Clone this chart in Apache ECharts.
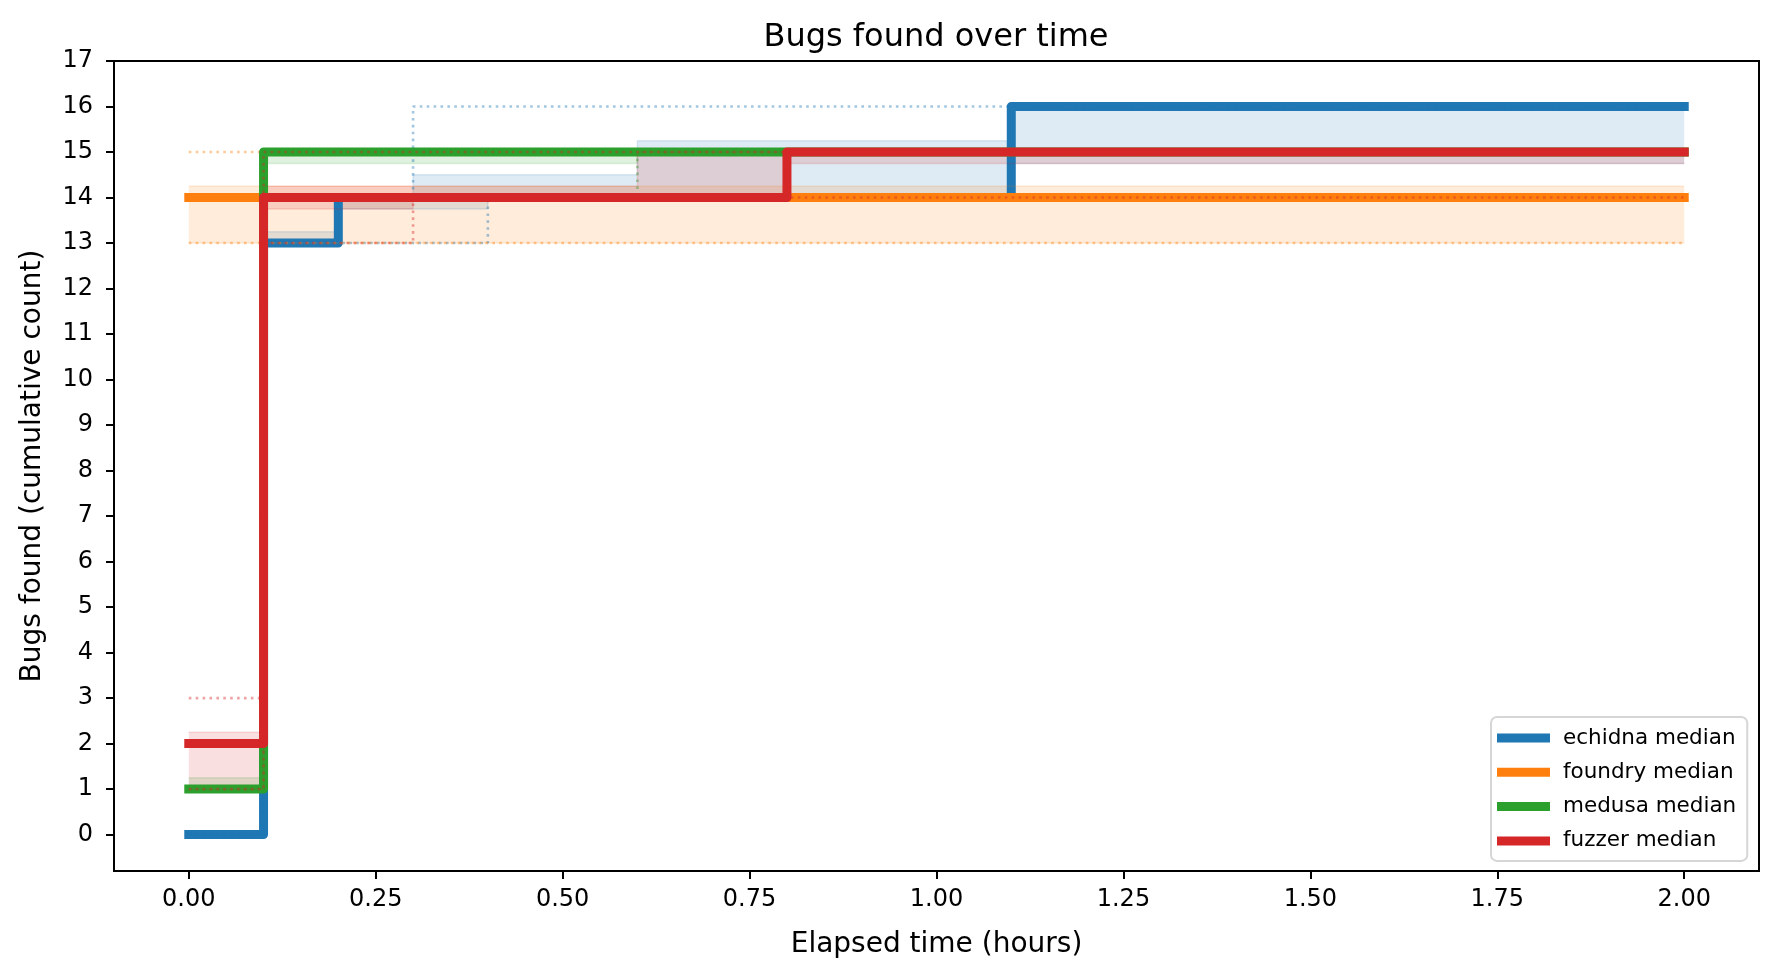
<!DOCTYPE html>
<html>
<head>
<meta charset="utf-8">
<title>Bugs found over time</title>
<script src="https://cdn.jsdelivr.net/npm/echarts@6.0.0/dist/echarts.min.js"></script>
<style>
  html, body { margin: 0; padding: 0; background: #fff; }
  #graph_bugs { width: 1779px; height: 978px; }
</style>
</head>
<body>
<div id="graph_bugs"></div>
<script>
// elapsed time samples (hours)
var times = [0, 0.1, 0.2, 0.3, 0.4, 0.5, 0.6, 0.7, 0.8, 0.9, 1.0, 1.1, 1.2, 1.3, 1.4, 1.5, 1.6, 1.7, 1.8, 1.9, 2.0];

// echidna
var echidnaMedian = [0, 13, 14, 14, 14, 14, 14, 14, 14, 14, 14, 16, 16, 16, 16, 16, 16, 16, 16, 16, 16];
var echidnaQ25    = [0, 13, 13.75, 13.75, 14, 14, 14, 14, 14, 14, 14, 14.75, 14.75, 14.75, 14.75, 14.75, 14.75, 14.75, 14.75, 14.75, 14.75];
var echidnaQ75    = [0, 13.25, 14, 14.5, 14.5, 14.5, 15.25, 15.25, 15.25, 15.25, 15.25, 16, 16, 16, 16, 16, 16, 16, 16, 16, 16];
var echidnaMin    = [0, 13, 13, 13, 14, 14, 14, 14, 14, 14, 14, 14, 14, 14, 14, 14, 14, 14, 14, 14, 14];
var echidnaMax    = [0, 14, 14, 16, 16, 16, 16, 16, 16, 16, 16, 16, 16, 16, 16, 16, 16, 16, 16, 16, 16];

// foundry
var foundryMedian = [14, 14, 14, 14, 14, 14, 14, 14, 14, 14, 14, 14, 14, 14, 14, 14, 14, 14, 14, 14, 14];
var foundryQ25    = [13, 13, 13, 13, 13, 13, 13, 13, 13, 13, 13, 13, 13, 13, 13, 13, 13, 13, 13, 13, 13];
var foundryQ75    = [14.25, 14.25, 14.25, 14.25, 14.25, 14.25, 14.25, 14.25, 14.25, 14.25, 14.25, 14.25, 14.25, 14.25, 14.25, 14.25, 14.25, 14.25, 14.25, 14.25, 14.25];
var foundryMin    = [13, 13, 13, 13, 13, 13, 13, 13, 13, 13, 13, 13, 13, 13, 13, 13, 13, 13, 13, 13, 13];
var foundryMax    = [15, 15, 15, 15, 15, 15, 15, 15, 15, 15, 15, 15, 15, 15, 15, 15, 15, 15, 15, 15, 15];

// medusa
var medusaMedian = [1, 15, 15, 15, 15, 15, 15, 15, 15, 15, 15, 15, 15, 15, 15, 15, 15, 15, 15, 15, 15];
var medusaQ25    = [1, 14.75, 14.75, 14.75, 14.75, 14.75, 15, 15, 15, 15, 15, 15, 15, 15, 15, 15, 15, 15, 15, 15, 15];
var medusaQ75    = [1.25, 15, 15, 15, 15, 15, 15, 15, 15, 15, 15, 15, 15, 15, 15, 15, 15, 15, 15, 15, 15];
var medusaMin    = [1, 14, 14, 14, 14, 14, 15, 15, 15, 15, 15, 15, 15, 15, 15, 15, 15, 15, 15, 15, 15];
var medusaMax    = [2, 15, 15, 15, 15, 15, 15, 15, 15, 15, 15, 15, 15, 15, 15, 15, 15, 15, 15, 15, 15];

// fuzzer
var fuzzerMedian = [2, 14, 14, 14, 14, 14, 14, 14, 15, 15, 15, 15, 15, 15, 15, 15, 15, 15, 15, 15, 15];
var fuzzerQ25    = [1, 13.75, 13.75, 14, 14, 14, 14, 14, 14.75, 14.75, 14.75, 14.75, 14.75, 14.75, 14.75, 14.75, 14.75, 14.75, 14.75, 14.75, 14.75];
var fuzzerQ75    = [2.25, 14.25, 14.25, 14.25, 14.25, 14.25, 15, 15, 15, 15, 15, 15, 15, 15, 15, 15, 15, 15, 15, 15, 15];
var fuzzerMin    = [1, 13, 13, 14, 14, 14, 14, 14, 14, 14, 14, 14, 14, 14, 14, 14, 14, 14, 14, 14, 14];
var fuzzerMax    = [3, 15, 15, 15, 15, 15, 15, 15, 15, 15, 15, 15, 15, 15, 15, 15, 15, 15, 15, 15, 15];

var xTicks = [0, 0.25, 0.5, 0.75, 1, 1.25, 1.5, 1.75, 2];
var yTicks = [0, 1, 2, 3, 4, 5, 6, 7, 8, 9, 10, 11, 12, 13, 14, 15, 16, 17];

var FONT = 'DejaVu Sans';

// value first, time second (encode below) so stacking happens on y
function pairs(vals) {
  return times.map(function (t, i) { return [vals[i], t]; });
}
function spread(lo, hi) {
  return times.map(function (t, i) { return [hi[i] - lo[i], t]; });
}

function fuzzerSeries(name, color, med, q25, q75, mn, mx) {
  var edge = { color: color, opacity: 0.15, width: 1.5 };
  var dotted = { color: color, opacity: 0.42, width: 2.6, type: [2.6, 4.3], cap: 'butt' };
  var base = {
    type: 'line', step: 'end', symbol: 'none', showSymbol: false, silent: true,
    encode: { x: 1, y: 0 }, itemStyle: { color: color }
  };
  return [
    Object.assign({}, base, { name: name + ' q25', stack: name + 'band', data: pairs(q25), lineStyle: edge }),
    Object.assign({}, base, { name: name + ' q75', stack: name + 'band', data: spread(q25, q75), lineStyle: edge,
      areaStyle: { color: color, opacity: 0.15 } }),
    Object.assign({}, base, { name: name + ' median', data: pairs(med),
      lineStyle: { color: color, width: 9, cap: 'square', join: 'round' } }),
    Object.assign({}, base, { name: name + ' min', data: pairs(mn), lineStyle: dotted }),
    Object.assign({}, base, { name: name + ' max', data: pairs(mx), lineStyle: dotted })
  ];
}

var series = []
  .concat(fuzzerSeries('echidna', '#1f77b4', echidnaMedian, echidnaQ25, echidnaQ75, echidnaMin, echidnaMax))
  .concat(fuzzerSeries('foundry', '#ff7f0e', foundryMedian, foundryQ25, foundryQ75, foundryMin, foundryMax))
  .concat(fuzzerSeries('medusa', '#2ca02c', medusaMedian, medusaQ25, medusaQ75, medusaMin, medusaMax))
  .concat(fuzzerSeries('fuzzer', '#d62728', fuzzerMedian, fuzzerQ25, fuzzerQ75, fuzzerMin, fuzzerMax));

var chart = echarts.init(document.getElementById('graph_bugs'));

var axisLineStyle = { color: '#000', width: 2 };

option = {
  animation: false,
  backgroundColor: '#fff',
  title: {
    text: 'Bugs found over time',
    left: 936,
    top: 22,
    textAlign: 'center',
    padding: 0,
    textStyle: { fontFamily: FONT, fontSize: 32, fontWeight: 'normal', color: '#000' }
  },
  legend: {
    data: ['echidna median', 'foundry median', 'medusa median', 'fuzzer median'],
    orient: 'vertical',
    left: 1491,
    top: 717,
    icon: 'rect',
    itemWidth: 53,
    itemHeight: 9,
    itemGap: 12.3,
    padding: [10, 11, 9, 6],
    backgroundColor: 'rgba(255,255,255,0.8)',
    borderColor: '#d6d6d6',
    borderWidth: 2,
    borderRadius: 6,
    selectedMode: false,
    textStyle: { fontFamily: FONT, fontSize: 21.5, color: '#000', lineHeight: 22, padding: [0, 0, 0, 8] }
  },
  grid: {
    left: 114,
    right: 20,
    top: 61,
    bottom: 107,
    show: true,
    borderColor: '#000',
    borderWidth: 2,
    outerBoundsMode: 'none'
  },
  xAxis: {
    type: 'value',
    min: -0.1,
    max: 2.1,
    name: 'Elapsed time (hours)',
    nameLocation: 'middle',
    nameGap: 60,
    nameTextStyle: { fontFamily: FONT, fontSize: 28, color: '#000' },
    splitLine: { show: false },
    axisLine: { show: true, onZero: false, lineStyle: axisLineStyle },
    axisTick: { show: true, customValues: xTicks, length: 8, lineStyle: axisLineStyle },
    axisLabel: {
      customValues: xTicks,
      margin: 17,
      fontFamily: FONT,
      fontSize: 24,
      color: '#000',
      formatter: function (v) { return v.toFixed(2); }
    }
  },
  yAxis: {
    type: 'value',
    min: -0.8,
    max: 17,
    name: 'Bugs found (cumulative count)',
    nameLocation: 'middle',
    nameRotate: 90,
    nameGap: 67,
    nameTextStyle: { fontFamily: FONT, fontSize: 28, color: '#000' },
    splitLine: { show: false },
    axisLine: { show: true, onZero: false, lineStyle: axisLineStyle },
    axisTick: { show: true, customValues: yTicks, length: 8, lineStyle: axisLineStyle },
    axisLabel: {
      customValues: yTicks,
      margin: 21,
      fontFamily: FONT,
      fontSize: 24,
      color: '#000'
    }
  },
  series: series
};

chart.setOption(option);
</script>
</body>
</html>
